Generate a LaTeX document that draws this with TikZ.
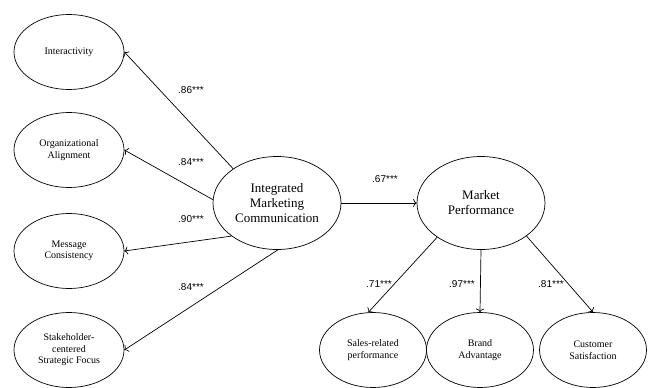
\documentclass[tikz,border=0pt]{standalone}
\usepackage{fontspec}
\setmainfont{Liberation Serif}
\newfontfamily\coeffont{Liberation Sans}
\usetikzlibrary{shapes.geometric, arrows, arrows.meta}

\begin{document}
\begin{tikzpicture}[x=1pt,y=-1pt,line width=0.7pt,>={To[length=3.5pt,width=8pt]},
  factor/.style={draw,ellipse,inner sep=0pt,minimum width=110pt,minimum height=75pt,align=center,font=\fontsize{10}{11.5}\selectfont},
  construct/.style={draw,ellipse,inner sep=0pt,minimum width=128pt,minimum height=93pt,align=center,font=\fontsize{13}{15}\selectfont},
  coef/.style={font=\coeffont\fontsize{10}{12}\selectfont}]
\useasboundingbox (0,0) rectangle (656,388);
\color{black}
\node[factor] (Inter) at (69,52) {Interactivity};
\node[factor] (Org) at (69,150) {Organizational\\Alignment};
\node[factor] (Msg) at (69,251) {Message\\Consistency};
\node[factor] (Stake) at (69,350) {Stakeholder-\\centered\\Strategic Focus};

\node[construct] (IMC) at (277,203) {Integrated\\Marketing\\Communication};
\node[construct] (MP) at (481,203) {Market\\Performance};

\node[factor,minimum width=107pt] (Sales) at (373,350) {Sales-related\\performance};
\node[factor,minimum width=107pt] (Brand) at (480,350) {Brand\\Advantage};
\node[factor,minimum width=107pt] (Cust) at (593,350) {Customer\\Satisfaction};

\draw [->] (IMC.142) -- (Inter.east);
\draw [->] (IMC.177) -- (Org.east);
\draw [->] (IMC.216) -- (Msg.east);
\draw [->] (IMC.271) -- (Stake.east);
\draw [->] (IMC.east) -- (MP.west);
\draw [->] (MP.218) -- (Sales.97);
\draw [->] (MP.south) -- (Brand.north);
\draw [->] (MP.324) -- (Cust.north);

\node[coef] (c1) at (191,90) {.86***};
\node[coef] (c2) at (191,162) {.84***};
\node[coef] (c3) at (191,219) {.90***};
\node[coef] (c4) at (191,287) {.84***};
\node[coef] (c5) at (385,179) {.67***};
\node[coef] (c6) at (379,284) {.71***};
\node[coef] (c7) at (462,284) {.97***};
\node[coef] (c8) at (551,284) {.81***};

\end{tikzpicture}
\end{document}
